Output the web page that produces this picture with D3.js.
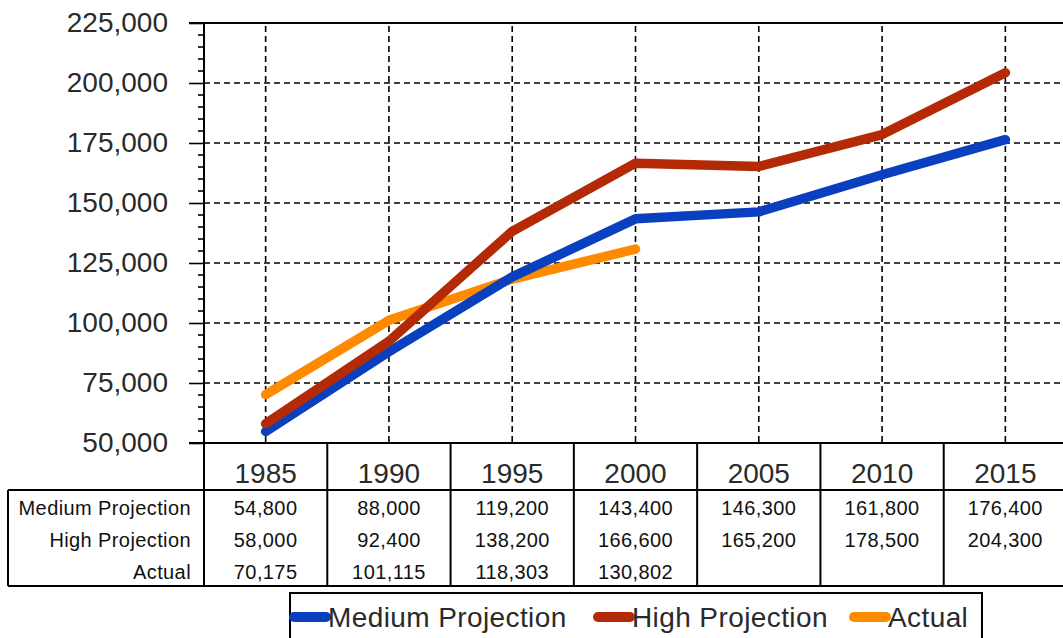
<!DOCTYPE html>
<html>
<head>
<meta charset="utf-8">
<script src="https://cdn.jsdelivr.net/npm/d3@7"></script>
<style>
  html, body { margin: 0; padding: 0; background: #fff; }
  svg { display: block; font-family: "Liberation Sans", Arial, sans-serif; }
</style>
</head>
<body>
<svg id="chart" width="1063" height="638"></svg>
<script>
// Enrollment series by year
const years = ["1985", "1990", "1995", "2000", "2005", "2010", "2015"];
const mediumProjection = [54800, 88000, 119200, 143400, 146300, 161800, 176400];
const highProjection = [58000, 92400, 138200, 166600, 165200, 178500, 204300];
const actual = [70175, 101115, 118303, 130802];
const seriesNames = ["Medium Projection", "High Projection", "Actual"];
const seriesColors = ["#0a3fbf", "#b52a06", "#ff8a00"];
const yTicks = [50000, 75000, 100000, 125000, 150000, 175000, 200000, 225000];

const seriesValues = [mediumProjection, highProjection, actual];

const svg = d3.select("#chart");
const fmt = d3.format(",");
const textColor = "#2a2a2a";

const plot = { left: 204, right: 1067, top: 23, bottom: 443 };
const table = { left: 8, headerBottom: 490, rowH: 32 };

const x = d3.scaleBand().domain(years).range([plot.left, plot.right]).padding(0);
const y = d3.scaleLinear().domain([50000, 225000]).range([plot.bottom, plot.top]);
const cx = d => x(d) + x.bandwidth() / 2;

// Grid: dashed lines at category centres and major values
const grid = svg.append("g").attr("stroke", "#000").attr("stroke-width", 1.6)
  .attr("stroke-dasharray", "6,4");
grid.selectAll("line.v").data(years).join("line")
  .attr("x1", d => cx(d)).attr("x2", d => cx(d))
  .attr("y1", plot.top + 3).attr("y2", plot.bottom);
grid.selectAll("line.h").data(yTicks.slice(1, -1)).join("line")
  .attr("x1", plot.left).attr("x2", plot.right)
  .attr("y1", d => y(d)).attr("y2", d => y(d));

// Y axis with minor ticks every 5,000
const yAxis = d3.axisLeft(y).tickValues(yTicks).tickFormat(fmt).tickSize(15).tickPadding(21);
const ya = svg.append("g").attr("transform", `translate(${plot.left},0)`).call(yAxis);
ya.select(".domain").remove();
ya.selectAll(".tick line").attr("stroke", "#000").attr("stroke-width", 1.6);
ya.selectAll(".tick text").attr("font-size", 28).attr("fill", textColor)
  .attr("font-family", "'Liberation Sans', Arial, sans-serif");
const minor = d3.range(50000, 225001, 5000).filter(v => v % 25000 !== 0);
svg.append("g").selectAll("line").data(minor).join("line")
  .attr("x1", plot.left - 6).attr("x2", plot.left)
  .attr("y1", d => y(d)).attr("y2", d => y(d))
  .attr("stroke", "#000").attr("stroke-width", 1.6);

// Plot frame: left axis, top and bottom edges
const frame = svg.append("g").attr("stroke", "#000").attr("stroke-width", 2);
frame.append("line").attr("x1", plot.left).attr("x2", plot.left).attr("y1", plot.top).attr("y2", plot.bottom);
frame.append("line").attr("x1", plot.left - 15).attr("x2", plot.right).attr("y1", plot.top).attr("y2", plot.top);
frame.append("line").attr("x1", plot.left - 15).attr("x2", plot.right).attr("y1", plot.bottom).attr("y2", plot.bottom);

// Series lines (Actual underneath, High on top)
const line = d3.line().x((d, i) => cx(years[i])).y(d => y(d));
[2, 0, 1].forEach(k => {
  svg.append("path").datum(seriesValues[k])
    .attr("d", line)
    .attr("fill", "none")
    .attr("stroke", seriesColors[k])
    .attr("stroke-width", 9.5)
    .attr("stroke-linejoin", "round")
    .attr("stroke-linecap", "round");
});

// Data table below the plot
const tb = svg.append("g");
const tableBottom = table.headerBottom + table.rowH * seriesNames.length;
const tl = tb.append("g").attr("stroke", "#000").attr("stroke-width", 2);
tl.append("line").attr("x1", table.left).attr("x2", plot.right)
  .attr("y1", table.headerBottom).attr("y2", table.headerBottom);
tl.append("line").attr("x1", table.left).attr("x2", plot.right)
  .attr("y1", tableBottom).attr("y2", tableBottom);
tl.append("line").attr("x1", table.left).attr("x2", table.left)
  .attr("y1", table.headerBottom).attr("y2", tableBottom);
tl.selectAll("line.col").data(years).join("line")
  .attr("x1", d => x(d)).attr("x2", d => x(d))
  .attr("y1", plot.bottom).attr("y2", tableBottom);

tb.selectAll("text.year").data(years).join("text")
  .attr("x", d => cx(d)).attr("y", 483)
  .attr("text-anchor", "middle").attr("font-size", 28).attr("fill", textColor)
  .text(d => d);

seriesNames.forEach((name, r) => {
  const base = table.headerBottom + r * table.rowH + 25;
  tb.append("text").attr("x", 191).attr("y", base)
    .attr("text-anchor", "end").attr("font-size", 20).attr("fill", "#111")
    .attr("letter-spacing", 0.4)
    .text(name);
  tb.selectAll(null).data(seriesValues[r]).join("text")
    .attr("x", (d, i) => cx(years[i])).attr("y", base)
    .attr("text-anchor", "middle").attr("font-size", 20).attr("fill", "#111")
    .attr("letter-spacing", 0.4)
    .text(d => fmt(d));
});

// Legend
const lg = svg.append("g");
lg.append("rect").attr("x", 290).attr("y", 593).attr("width", 692).attr("height", 60)
  .attr("fill", "#fff").attr("stroke", "#000").attr("stroke-width", 2);
const legendX = [294, 598, 854];
seriesNames.forEach((name, k) => {
  lg.append("line").attr("x1", legendX[k]).attr("x2", legendX[k] + 32)
    .attr("y1", 617).attr("y2", 617)
    .attr("stroke", seriesColors[k]).attr("stroke-width", 10).attr("stroke-linecap", "round");
  lg.append("text").attr("x", legendX[k] + 34).attr("y", 627)
    .attr("font-size", 28).attr("fill", textColor).attr("letter-spacing", 0.4).text(name);
});
</script>
</body>
</html>
